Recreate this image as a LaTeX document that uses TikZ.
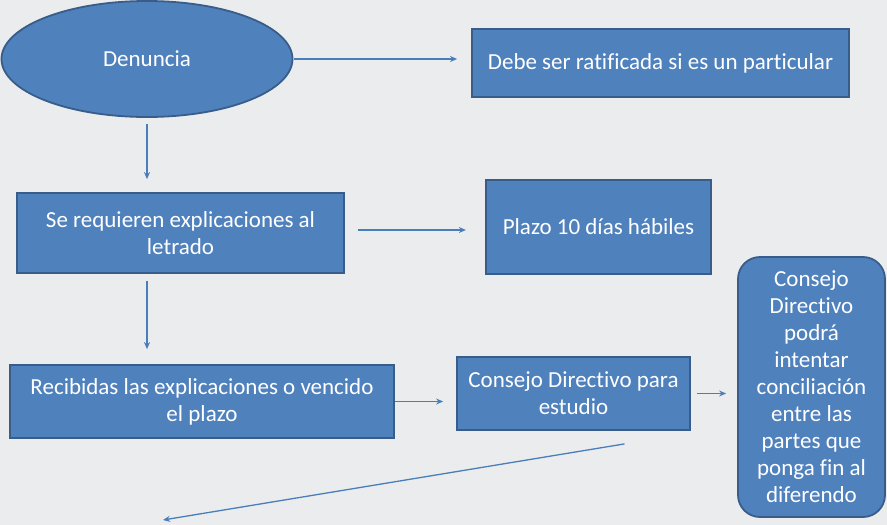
\documentclass[tikz,border=0pt]{standalone}
\usepackage{fontspec}
\setmainfont[Ligatures=CommonOff]{Carlito}
\usetikzlibrary{arrows.meta,shapes.geometric}
\definecolor{bg}{HTML}{EBECEE}
\definecolor{boxfill}{HTML}{4F81BD}
\definecolor{boxdraw}{HTML}{385D8A}
\definecolor{arrowc}{HTML}{4A7EBB}
\tikzset{
  blk/.style={draw=boxdraw, fill=boxfill, line width=1.8pt, text=white, inner sep=0pt, align=center,
    font=\fontsize{23}{27}\selectfont},
  conn/.style={draw=arrowc, line width=1.3pt, -{Stealth[length=7pt,width=6pt]}},
}
\begin{document}
\begin{tikzpicture}[x=1pt,y=-1pt]
\useasboundingbox (0,0) rectangle (887,525);
\fill[bg] (0,0) rectangle (887,525);

\node[blk, ellipse, minimum width=291, minimum height=116] (den) at (147,59) {Denuncia};
\node[blk, rectangle, minimum width=377, minimum height=68] (debe) at (660.5,63) {Debe ser ratificada si es un particular};
\node[blk, rectangle, minimum width=327, minimum height=80] (se) at (180.5,233) {Se requieren explicaciones al\\letrado};
\node[blk, rectangle, minimum width=225, minimum height=94] (plazo) at (598.5,227) {Plazo 10 días hábiles};
\node[blk, rectangle, minimum width=384, minimum height=73] (rec) at (202,401.5) {Recibidas las explicaciones o vencido\\el plazo};
\node[blk, rectangle, minimum width=233, minimum height=73] (con) at (573.5,393.5) {Consejo Directivo para\\estudio};
\node[blk, rectangle, rounded corners=22pt, minimum width=147, minimum height=260] (cd) at (811.5,387) {Consejo\\Directivo\\podrá\\intentar\\conciliación\\entre las\\partes que\\ponga fin al\\diferendo};

\coordinate (fin) at (163,520);

\draw[conn, shorten <=1pt, shorten >=14pt] (den.east) -- (den.east -| debe.west);
\draw[conn, shorten <=6pt, shorten >=13pt] (den.south) -- (den.south |- se.north);
\draw[conn, shorten <=13pt, shorten >=8pt] (se.east) ++(0,-3) -- ++(129,0) coordinate (sp) ;
\draw[conn, shorten <=7pt, shorten >=15pt] (den.south |- se.south) -- (den.south |- rec.north);
\draw[conn, shorten <=0pt, shorten >=13pt] (rec.east) -- (rec.east -| con.west);
\draw[conn, shorten <=6pt, shorten >=11pt] (con.east) -- (con.east -| cd.west);
\draw[conn] (con.south) ++(51,13) -- (fin);
\end{tikzpicture}
\end{document}
